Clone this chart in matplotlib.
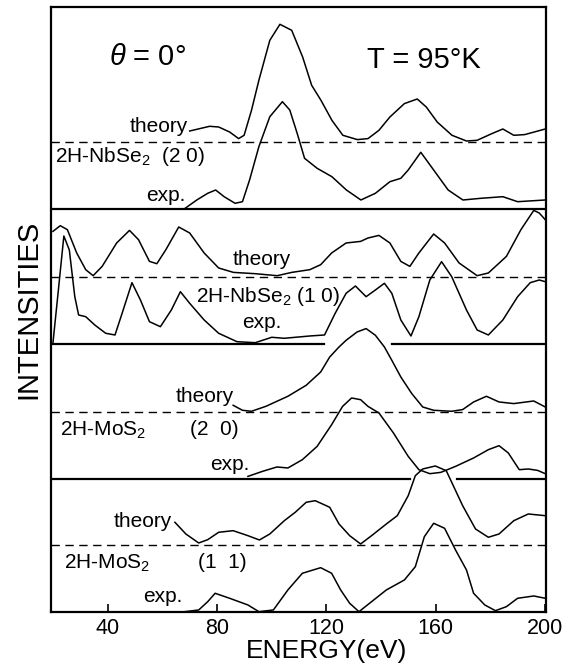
import numpy as np
import matplotlib.pyplot as plt

plt.rcParams['font.family'] = ['Liberation Sans', 'DejaVu Sans']
plt.rcParams['mathtext.fontset'] = 'custom'
plt.rcParams['mathtext.rm'] = 'Liberation Sans'
plt.rcParams['mathtext.it'] = 'Liberation Sans:italic'

# panel layout: baseline of each panel (exp.) and dashed line (theory) above it
offsets = [403, 268, 133, 0]
gap = 67

# 2H-NbSe2 (2 0)
nb20_th_E = [70, 77.3, 80.6, 84.6, 87.9, 89.9, 92.6, 95.3, 99.3, 103, 107.3, 111.3, 114.6, 118, 122, 126,
             131.3, 135.2, 139.2, 143.2, 148.5, 153.2, 156.5, 160.5, 165.9, 171.2, 175.1, 180.5, 184.5,
             188.5, 192.5, 200]
nb20_th_I = [11, 15.7, 15, 10, 3.4, 6.7, 31.7, 61.7, 101.7, 117.7, 111.7, 85, 56.7, 41.7, 21.7, 6.7,
             2.4, 3.4, 11.7, 25, 38.4, 43, 35, 20, 6.7, 1, 1.7, 8.4, 13, 6.7, 7.4, 13]
nb20_ex_E = [68, 72.6, 76.6, 79.5, 82.6, 86.6, 89.3, 91.9, 95.3, 99.3, 103.9, 106.6, 109.3, 112, 116.6,
             122, 127.3, 132.6, 137.9, 143.2, 147.2, 149.9, 154.5, 159.2, 164.5, 169.9, 176.5, 184.5,
             189.9, 200]
nb20_ex_I = [0, 9, 15.7, 19, 12.3, 5.7, 7.3, 29, 62.3, 92.3, 107.3, 99, 75.7, 50.7, 40.7, 32.3, 19, 9,
             15.7, 27.3, 30.7, 39, 56.7, 39, 19, 9, 10.7, 12.3, 7.3, 9]

# 2H-NbSe2 (1 0)
nb10_th_E = [20, 22.7, 25.3, 28.7, 32, 34.7, 38, 43.3, 48, 51.3, 55.3, 58, 61.3, 66, 70, 75.3, 80.6, 86,
             94, 102, 107.3, 113.9, 117.9, 121.9, 127.2, 132.5, 135.2, 139.2, 143.2, 147.2, 150.5,
             153.8, 159.2, 163.2, 168.5, 175.1, 179.2, 185.8, 191.1, 195.8, 197.8, 200]
nb10_th_I = [45.6, 51.3, 47.3, 24, 7.3, 1.3, 10.6, 34, 46.6, 37.3, 15.6, 13.3, 27.3, 50, 44, 24, 9, 4.6,
             3.3, 1.3, 4.6, 7.3, 12.3, 24, 34, 35.6, 39, 41.6, 34, 15.6, 10.6, 24, 43, 34, 14, 1.3, 4,
             20.6, 47.3, 66.6, 64, 57.3]
nb10_ex_E = [20, 22, 24, 26, 28, 29.4, 32, 35.3, 39.3, 42.7, 45.3, 48.9, 52, 55.3, 59.3, 63.3, 66.6, 70,
             75.3, 80.6, 87.3, 94, 100, 104.6, 113.9, 119.3, 123.2, 127.2, 130.6, 134.5, 137.9, 141.2,
             143.9, 147.2, 150.9, 153.8, 157.8, 162.1, 165.8, 171.2, 175.1, 179.2, 184.5, 189.9, 194.5,
             197.8, 200]
nb10_ex_I = [0.7, 54, 108, 94, 47.3, 29, 27.3, 19, 10.7, 9, 30.7, 61.3, 44, 22.3, 17.3, 34, 52.3, 40.7,
             24, 10.7, 2.3, 1.3, 6.7, 5.7, 8, 9, 30.7, 50.7, 58, 47.3, 54, 60.7, 50.7, 24, 8, 27.3, 64,
             82.3, 67.3, 34, 14, 9, 24, 47.3, 61.3, 64, 62.3]

# 2H-MoS2 (2 0)
mo20_th_E = [85.9, 89.3, 92.6, 97.9, 105.9, 112.6, 117.9, 121.2, 124.6, 127.2, 131.2, 134.5, 137.9,
             141.2, 143.9, 147.2, 151.2, 155.2, 159.2, 165.8, 169.8, 173.8, 178.5, 183.1, 188.5, 195.8,
             200]
mo20_th_I = [6.7, 1.7, 0.7, 5.7, 15.7, 26.7, 40, 55, 65, 71.7, 80, 83.4, 76.7, 65, 51.7, 35, 18.4, 5,
             1.7, 0.7, 2.4, 10, 15.7, 10, 8.4, 11, 5]
mo20_ex_E = [91.3, 96.6, 101.9, 105.9, 111.2, 116.6, 121.9, 125.9, 129.2, 132.5, 135.2, 139.2, 144.5,
             149.9, 153.8, 157.8, 161.8, 167.2, 173.8, 179.2, 183.1, 186.5, 190.5, 193.8, 197.2, 200]
mo20_ex_I = [2.6, 7.6, 12, 11, 19.3, 32.6, 54.3, 72.6, 81, 79.3, 72.6, 66, 46, 22.6, 9.3, 5.3, 6.6,
             12.6, 21, 29.3, 33.3, 26, 9.3, 10, 8.6, 5.3]

# 2H-MoS2 (1 1)
mo11_th_E = [64.6, 68.6, 73.3, 76.6, 80.6, 85.9, 91.3, 95.5, 99.3, 104.6, 108.6, 112.6, 115.9, 121.2,
             124.6, 128.5, 132.5, 136.5, 141.9, 145.9, 149.9, 152.5, 155.2, 159.8, 163.8, 165.8, 169.8,
             174.5, 179.2, 183.1, 188.5, 193.8, 200]
mo11_th_I = [22.7, 11, 2, 5.3, 12.7, 14.3, 9.3, 5, 11, 24.3, 32.7, 42.7, 44.3, 37.7, 21, 9.3, 1, 9.3,
             21, 29.3, 49.3, 69.3, 76, 79, 74.3, 62.7, 39.3, 16, 7.7, 11, 24.3, 31, 29.3]
mo11_ex_E = [67.3, 73.3, 76.6, 79.3, 84.6, 91.3, 95.3, 100.6, 105.9, 111.2, 117.9, 121.9, 125.2, 128.5,
             131.9, 136.5, 141.9, 148.5, 152.5, 155.8, 159.2, 163.2, 167.2, 171.2, 173.8, 177.9, 181.8,
             185.8, 189.9, 195.8, 200]
mo11_ex_I = [0, 2, 10.3, 18.7, 13.7, 7, 0.3, 2, 22, 38.7, 44.3, 38.7, 22, 8.7, 0.3, 10.3, 22, 32, 45.3,
             75.3, 88.7, 83.7, 62, 42, 18.7, 7, 1.3, 5.3, 13.7, 16, 13.7]

theory = [(nb20_th_E, nb20_th_I), (nb10_th_E, nb10_th_I), (mo20_th_E, mo20_th_I), (mo11_th_E, mo11_th_I)]
expt = [(nb20_ex_E, nb20_ex_I), (nb10_ex_E, nb10_ex_I), (mo20_ex_E, mo20_ex_I), (mo11_ex_E, mo11_ex_I)]

# solid baseline pieces (broken where the curve below crosses over)
base_pieces = [[(19.3, 200.3)], [(19.3, 119), (144, 200.3)], [(19.3, 150.5), (167.8, 200.3)]]

fig = plt.figure(figsize=(5.73, 6.67), dpi=100)
ax = fig.add_axes([0.089, 0.0825, 0.864, 0.907])

for k in range(4):
    off = offsets[k]
    ax.plot([19.3, 200.3], [off + gap, off + gap], color='black', lw=1.0, ls=(0, (6, 4)))
    E, I = theory[k]
    ax.plot(E, off + gap + np.array(I), color='black', lw=1.1)
    E, I = expt[k]
    ax.plot(E, off + np.array(I), color='black', lw=1.1)
    if k < 3:
        for a, b in base_pieces[k]:
            ax.plot([a, b], [off, off], color='black', lw=1.6)

fs = 15
ax.text(69.2, 485, 'theory', fontsize=fs, ha='right', va='center')
ax.text(20.8, 455, '2H-NbSe$_2$  (2 0)', fontsize=fs, ha='left', va='center')
ax.text(68.5, 416, 'exp.', fontsize=fs, ha='right', va='center')

ax.text(96.5, 352, 'theory', fontsize=fs, ha='center', va='center')
ax.text(98.8, 315, '2H-NbSe$_2$ (1 0)', fontsize=fs, ha='center', va='center')
ax.text(96.2, 289, 'exp.', fontsize=fs, ha='center', va='center')

ax.text(86, 215, 'theory', fontsize=fs, ha='right', va='center')
ax.text(22.6, 182, '2H-MoS$_2$', fontsize=fs, ha='left', va='center')
ax.text(70, 182, '(2  0)', fontsize=fs, ha='left', va='center')
ax.text(91.8, 147, 'exp.', fontsize=fs, ha='right', va='center')

ax.text(63.4, 90, 'theory', fontsize=fs, ha='right', va='center')
ax.text(24.1, 49, '2H-MoS$_2$', fontsize=fs, ha='left', va='center')
ax.text(73.2, 49, '(1  1)', fontsize=fs, ha='left', va='center')
ax.text(67.4, 15, 'exp.', fontsize=fs, ha='right', va='center')

ax.text(54.7, 555, r'$\theta$ = 0°', fontsize=21, ha='center', va='center')
ax.text(155.6, 552, 'T = 95°K', fontsize=21, ha='center', va='center')

ax.set_xlim(19.3, 200.3)
ax.set_ylim(0, 605)
ax.set_xticks([40, 80, 120, 160, 200])
ax.set_yticks([])
ax.tick_params(axis='x', direction='in', length=6, width=1.2, labelsize=15.5, pad=4)
for s in ax.spines.values():
    s.set_linewidth(1.6)
ax.set_xlabel('ENERGY(eV)', fontsize=19)
ax.xaxis.set_label_coords(0.557, -0.044)
ax.set_ylabel('INTENSITIES', fontsize=21, labelpad=6)

fig.savefig('out.png', dpi=100)
